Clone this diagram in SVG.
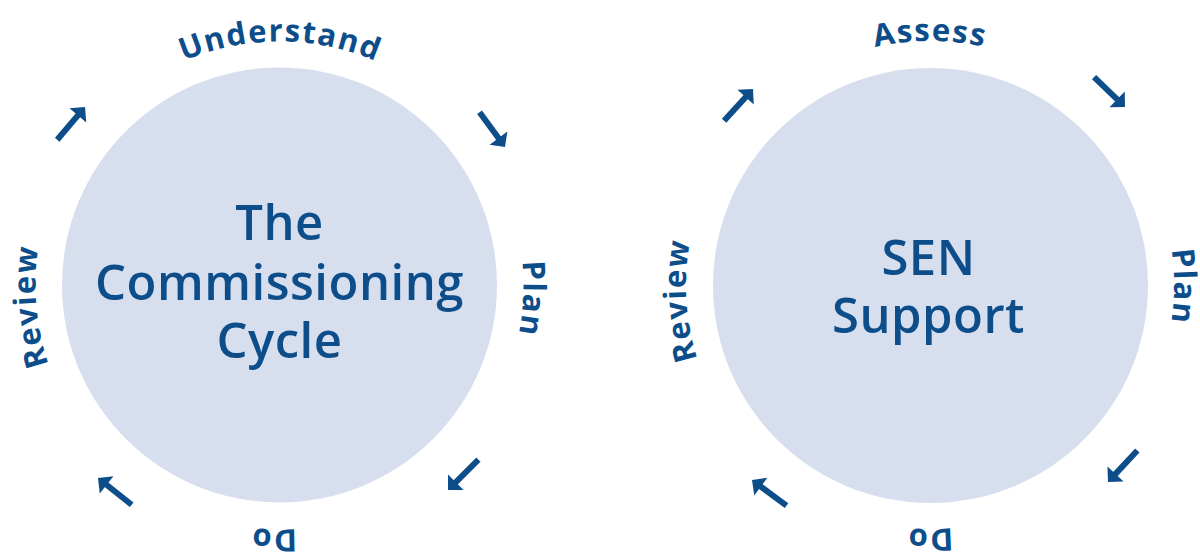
<svg xmlns="http://www.w3.org/2000/svg" xmlns:xlink="http://www.w3.org/1999/xlink" width="1200" height="558" viewBox="0 0 1200 558">
<style>
.disc{fill:#d7dfee;}
.title{font-family:"Open Sans","Liberation Sans",sans-serif;font-weight:600;font-size:49px;fill:#0d4e8a;text-anchor:middle;letter-spacing:0.5px;}
.lbl{font-family:"Open Sans","Liberation Sans",sans-serif;font-weight:700;font-size:31px;fill:#0d4e8a;text-anchor:middle;letter-spacing:1.5px;}
.shaft{stroke:#0d4e8a;stroke-width:6;fill:none;}
.head{fill:#0d4e8a;}
</style>
<defs>
<path id="ringL" d="M106.5,457.5 A244,244 0 1 1 452.5,457.5 A244,244 0 0 1 106.5,457.5"/>
<path id="ringR" d="M757.5,457.5 A244,244 0 1 1 1102.5,457.5 A244,244 0 0 1 757.5,457.5"/>
<g id="arrow">
<line class="shaft" x1="-43" y1="0" x2="-8" y2="0"/>
<path class="head" d="M0,0 L-11,-11 L-11,11 Z"/>
</g>
</defs>

<g id="node-commissioning">
<circle class="disc" cx="279.5" cy="285" r="217.5"/>
<text class="title" x="279.5" y="240">The</text>
<text class="title" x="279.5" y="300">Commissioning</text>
<text class="title" x="279.5" y="358">Cycle</text>
</g>

<g id="labels-commissioning">
<text class="lbl"><textPath xlink:href="#ringL" href="#ringL" startOffset="37.5%">Understand</textPath></text>
<text class="lbl"><textPath xlink:href="#ringL" href="#ringL" startOffset="63.3%">Plan</textPath></text>
<text class="lbl"><textPath xlink:href="#ringL" href="#ringL" startOffset="87.8%">Do</textPath></text>
<text class="lbl"><textPath xlink:href="#ringL" href="#ringL" startOffset="11.1%">Review</textPath></text>
</g>

<g id="node-sen">
<circle class="disc" cx="930.5" cy="285.5" r="217.5"/>
<text class="title" x="928.5" y="275">SEN</text>
<text class="title" x="928.5" y="333">Support</text>
</g>

<g id="labels-sen">
<text class="lbl"><textPath xlink:href="#ringR" href="#ringR" startOffset="37.5%">Assess</textPath></text>
<text class="lbl"><textPath xlink:href="#ringR" href="#ringR" startOffset="62.6%">Plan</textPath></text>
<text class="lbl"><textPath xlink:href="#ringR" href="#ringR" startOffset="87.5%">Do</textPath></text>
<text class="lbl"><textPath xlink:href="#ringR" href="#ringR" startOffset="11.5%">Review</textPath></text>
</g>

<g id="connectors">
<use href="#arrow" xlink:href="#arrow" transform="translate(85,107) rotate(-49.7)"/>
<use href="#arrow" xlink:href="#arrow" transform="translate(505,147) rotate(53.7)"/>
<use href="#arrow" xlink:href="#arrow" transform="translate(448,490) rotate(135)"/>
<use href="#arrow" xlink:href="#arrow" transform="translate(98,478) rotate(218.5)"/>
<use href="#arrow" xlink:href="#arrow" transform="translate(753,89) rotate(-47.8)"/>
<use href="#arrow" xlink:href="#arrow" transform="translate(1125,107) rotate(44)"/>
<use href="#arrow" xlink:href="#arrow" transform="translate(1108,482) rotate(133)"/>
<use href="#arrow" xlink:href="#arrow" transform="translate(752,480) rotate(216.6)"/>
</g>
</svg>
